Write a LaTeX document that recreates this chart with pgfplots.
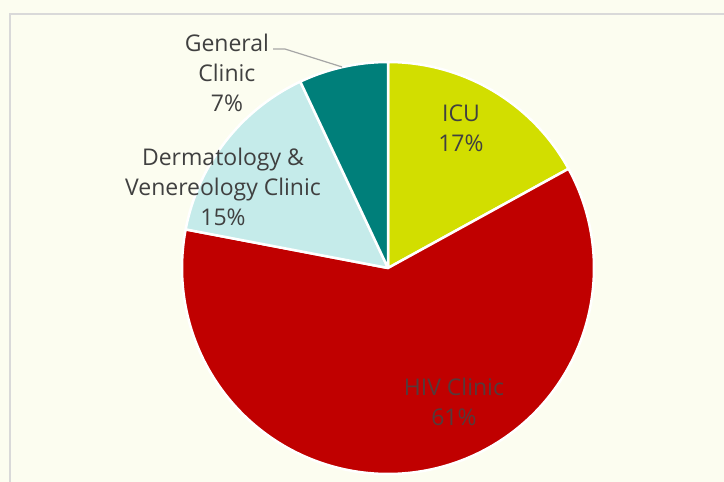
\documentclass[border=0pt]{standalone}
\usepackage{pgfplots}
\pgfplotsset{compat=1.18}
\usepackage{fontspec}
\setmainfont{Open Sans}
\definecolor{bg}{HTML}{FCFDF0}
\definecolor{frame}{HTML}{D9D9D9}
\definecolor{cICU}{HTML}{D2DE00}
\definecolor{cHIV}{HTML}{C00000}
\definecolor{cDerm}{HTML}{C5EBEA}
\definecolor{cGen}{HTML}{007F7A}
\definecolor{txt}{HTML}{404040}
\definecolor{txthiv}{HTML}{553A3A}
\definecolor{lead}{HTML}{A6A6A6}
% data (percent)
\def\vICU{17}
\def\vHIV{61}
\def\vDerm{15}
\def\vGen{7}
\pgfmathsetmacro{\aA}{90}
\pgfmathsetmacro{\aB}{90-3.6*\vICU}
\pgfmathsetmacro{\aC}{\aB-3.6*\vHIV}
\pgfmathsetmacro{\aD}{\aC-3.6*\vDerm}
\pgfmathsetmacro{\aE}{\aD-3.6*\vGen}
\begin{document}
\begin{tikzpicture}
\path[use as bounding box, fill=bg] (0,0) rectangle (724bp,482bp);
\draw[frame, line width=2bp] (10bp,0) -- (10bp,468bp) -- (724bp,468bp);
\begin{axis}[
  hide axis, scale only axis, width=412bp, height=412bp,
  xmin=-1, xmax=1, ymin=-1, ymax=1, clip=false,
  at={(388bp,214bp)}, anchor=center,
  every axis plot/.append style={draw=white, line width=2.5bp, line join=round},
]
\addplot[fill=cICU, domain=\aB:\aA, samples=60, variable=\t] ({cos(\t)},{sin(\t)}) -- (0,0) -- cycle;
\addplot[fill=cHIV, domain=\aC:\aB, samples=160, variable=\t] ({cos(\t)},{sin(\t)}) -- (0,0) -- cycle;
\addplot[fill=cDerm, domain=\aD:\aC, samples=50, variable=\t] ({cos(\t)},{sin(\t)}) -- (0,0) -- cycle;
\addplot[fill=cGen, domain=\aE:\aD, samples=30, variable=\t] ({cos(\t)},{sin(\t)}) -- (0,0) -- cycle;
\draw[lead, line width=1.2bp] (-0.558,1.063) -- (-0.5,1.063) -- (-0.223,0.976);
\tikzset{lab/.style={align=center, inner sep=0pt, text=txt, font=\fontsize{23bp}{30bp}\selectfont}}
\node[lab] at (-0.782,0.947) {General\\Clinic\\7\%};
\node[lab] at (-0.801,0.393) {Dermatology \&\\Venereology Clinic\\15\%};
\node[lab] at (0.354,0.680) {ICU\\17\%};
\node[lab, text=txthiv] at (0.320,-0.650) {HIV Clinic\\61\%};
\end{axis}
\end{tikzpicture}
\end{document}
